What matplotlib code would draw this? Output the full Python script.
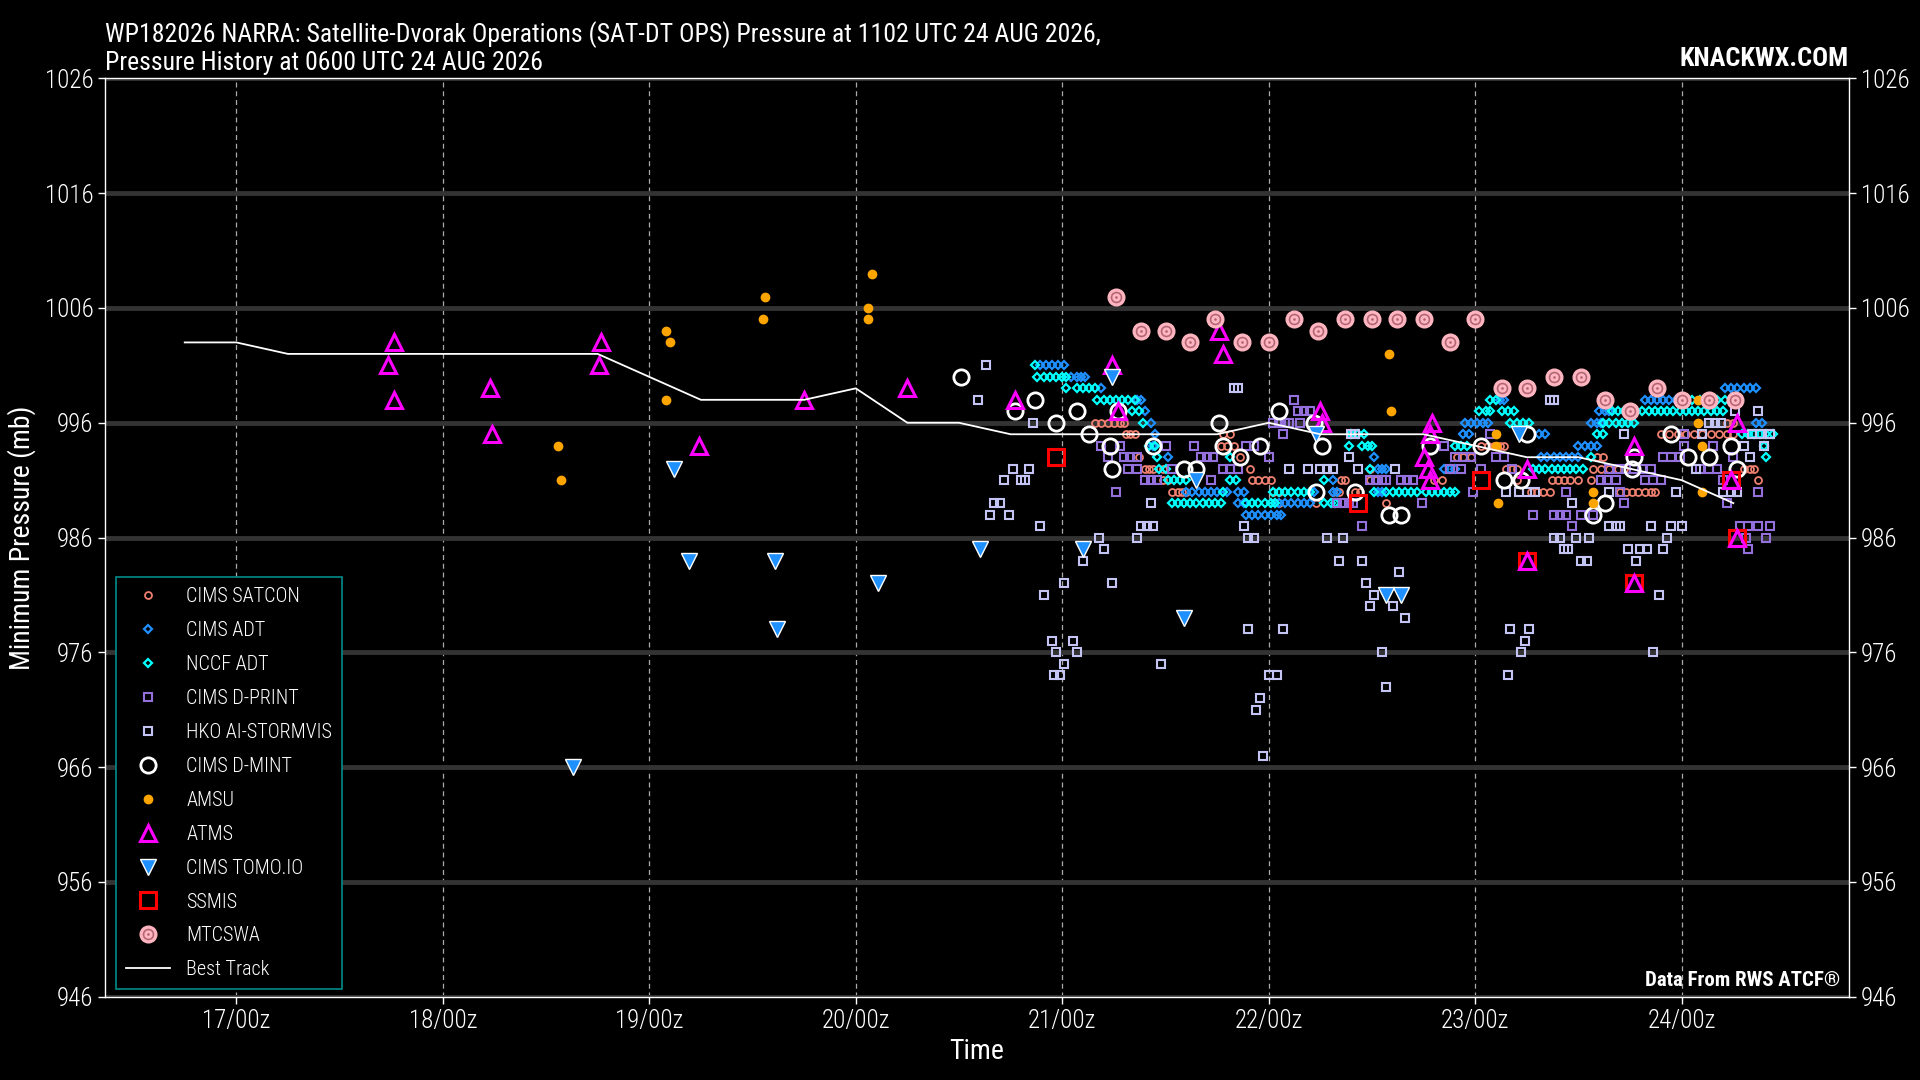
import matplotlib
matplotlib.use("Agg")
import matplotlib.pyplot as plt
from matplotlib import font_manager
from matplotlib.legend_handler import HandlerTuple

# pick a narrow font if one is there
names = {f.name for f in font_manager.fontManager.ttflist}
FONT = "DejaVu Sans"
for cand in ["Liberation Sans Narrow", "Roboto Condensed", "Open Sans Condensed", "DejaVu Sans"]:
    if cand in names:
        FONT = cand
        break
plt.rcParams["font.family"] = [FONT, "DejaVu Sans"]
plt.rcParams["font.weight"] = "light"

# times are day of August 2026 (UTC, fractional), pressures in mb
best_t = [16.75, 17.0, 17.25, 17.5, 17.75, 18.0, 18.25, 18.5, 18.75, 19.0, 19.25, 19.5,
          19.75, 20.0, 20.25, 20.5, 20.75, 21.0, 21.25, 21.5, 21.75, 22.0, 22.25, 22.5,
          22.75, 23.0, 23.25, 23.5, 23.75, 24.0, 24.25]
best_p = [1003, 1003, 1002, 1002, 1002, 1002, 1002, 1002, 1002, 1000, 998, 998,
          998, 999, 996, 996, 995, 995, 995, 995, 995, 996, 995, 995,
          995, 994, 993, 993, 992, 991, 989]

SATCON = [(21.16, 996), (21.19, 996), (21.22, 996), (21.25, 996), (21.28, 996), (21.30, 996),
          (21.31, 995), (21.33, 995), (21.35, 995), (21.37, 993), (21.40, 992), (21.42, 992),
          (21.44, 992), (21.49, 992), (21.49, 991), (21.51, 991), (21.53, 990), (21.56, 990),
          (21.58, 990), (21.60, 990), (21.77, 994), (21.80, 994), (21.83, 994), (21.78, 995),
          (21.81, 995), (21.86, 993), (21.91, 992), (21.92, 991), (21.95, 991), (21.98, 991),
          (22.01, 991), (22.02, 990), (22.05, 990), (22.05, 989), (22.23, 989), (22.31, 990),
          (22.34, 990), (22.35, 991), (22.37, 991), (22.42, 990), (22.44, 990), (22.49, 992),
          (22.49, 991), (22.52, 991), (22.57, 989), (22.80, 991), (22.84, 991),
          (22.91, 993), (22.94, 993), (22.98, 993), (23.03, 994), (23.06, 994), (23.09, 994),
          (23.12, 994), (23.14, 994), (23.15, 992), (23.18, 992), (23.20, 992), (23.20, 991),
          (23.37, 991), (23.40, 991), (23.43, 991), (23.46, 991), (23.50, 991), (23.56, 991),
          (23.27, 990), (23.30, 990), (23.33, 990), (23.36, 990), (23.59, 993), (23.62, 993),
          (23.57, 992), (23.61, 992), (23.65, 992), (23.69, 992), (23.72, 992), (23.70, 990),
          (23.73, 990), (23.76, 990), (23.79, 990), (23.82, 990), (23.85, 990), (23.87, 990),
          (23.90, 995), (23.94, 995), (23.98, 995), (24.02, 995), (24.06, 995), (24.10, 995),
          (24.14, 995), (24.18, 995), (24.22, 995), (24.25, 995), (24.22, 996), (24.25, 996),
          (24.30, 992), (24.33, 992), (24.35, 992), (24.37, 991)]

CIMS_ADT = [(20.89, 1001), (20.92, 1001), (20.95, 1001), (20.98, 1001), (21.01, 1001),
            (21.04, 1000), (21.07, 1000), (21.09, 1000), (21.11, 1000), (21.19, 999),
            (21.36, 998), (21.38, 998), (21.40, 997), (21.43, 996), (21.45, 995), (21.44, 994),
            (21.51, 993), (21.60, 990), (21.63, 990), (21.66, 990), (21.69, 990), (21.72, 990),
            (21.75, 990), (21.80, 990), (21.85, 990), (21.88, 990), (21.85, 989), (21.88, 989),
            (21.89, 988), (21.92, 988), (21.95, 988), (21.98, 988), (22.01, 988), (22.04, 988),
            (22.06, 988), (22.05, 989), (22.08, 989), (22.11, 989), (22.14, 989), (22.17, 989),
            (22.20, 989), (22.22, 990), (22.31, 990), (22.33, 990), (22.31, 991), (22.53, 990),
            (22.55, 990), (22.53, 992), (22.55, 992), (22.57, 992), (22.51, 993), (22.85, 992),
            (22.88, 992), (22.90, 992), (22.95, 996), (22.98, 996), (23.01, 996), (23.04, 996),
            (23.06, 996), (22.94, 995), (22.97, 995), (23.12, 998), (23.14, 998), (23.31, 995),
            (23.34, 995), (23.50, 994), (23.53, 994), (23.56, 994), (23.59, 994), (23.32, 993),
            (23.35, 993), (23.38, 993), (23.41, 993), (23.44, 993), (23.47, 993), (23.50, 993),
            (23.56, 996), (23.59, 996), (23.61, 996), (23.60, 997), (23.63, 997), (23.65, 997),
            (23.82, 998), (23.85, 998), (23.88, 998), (23.91, 998), (23.94, 998), (23.97, 998),
            (24.00, 998), (24.21, 999), (24.24, 999), (24.27, 999), (24.30, 999), (24.33, 999),
            (24.36, 999), (24.36, 996), (24.39, 996)]

NCCF_ADT = [(20.87, 1001), (20.88, 1000), (20.91, 1000), (20.94, 1000), (20.97, 1000),
            (21.00, 1000), (21.02, 1000), (21.02, 999), (21.07, 999), (21.10, 999), (21.13, 999),
            (21.16, 999), (21.17, 998), (21.20, 998), (21.23, 998), (21.26, 998), (21.29, 998),
            (21.32, 998), (21.35, 998), (21.34, 997), (21.37, 997), (21.39, 996), (21.42, 994),
            (21.45, 994), (21.46, 993), (21.47, 992), (21.50, 992), (21.51, 991), (21.54, 991),
            (21.57, 991), (21.60, 991), (21.53, 989), (21.56, 989), (21.59, 989), (21.62, 989),
            (21.65, 989), (21.68, 989), (21.71, 989), (21.74, 989), (21.77, 989), (21.78, 990),
            (21.81, 991), (21.84, 991), (21.81, 993), (21.89, 989), (21.92, 989), (21.95, 989),
            (21.98, 989), (22.01, 989), (22.03, 989), (22.02, 990), (22.05, 990), (22.08, 990),
            (22.11, 990), (22.14, 990), (22.17, 990), (22.20, 990), (22.27, 989), (22.30, 989),
            (22.32, 989), (22.27, 991), (22.39, 994), (22.45, 994), (22.48, 994), (22.50, 994),
            (22.40, 995), (22.43, 995), (22.46, 995), (22.49, 992), (22.51, 990), (22.57, 990),
            (22.60, 990), (22.63, 990), (22.66, 990), (22.69, 990), (22.72, 990), (22.76, 990),
            (22.79, 990), (22.82, 990), (22.85, 990), (22.88, 990), (22.90, 990), (22.90, 994),
            (22.93, 994), (22.96, 994), (23.02, 997), (23.05, 997), (23.07, 997), (23.07, 998),
            (23.10, 998), (23.13, 997), (23.16, 997), (23.19, 997), (23.17, 996), (23.20, 996),
            (23.23, 996), (23.26, 996), (23.28, 992), (23.31, 992), (23.34, 992), (23.37, 992),
            (23.40, 992), (23.43, 992), (23.46, 992), (23.49, 992), (23.52, 992), (23.56, 993),
            (23.59, 995), (23.62, 995), (23.62, 996), (23.65, 996), (23.68, 996), (23.71, 996),
            (23.74, 996), (23.77, 996), (23.66, 997), (23.69, 997), (23.72, 997), (23.75, 997),
            (23.78, 997), (23.81, 997), (23.84, 997), (23.87, 997), (23.90, 997), (23.93, 997),
            (23.96, 997), (23.99, 997), (24.02, 997), (24.05, 997), (24.08, 997), (24.11, 997),
            (24.14, 997), (24.17, 997), (24.20, 997), (24.01, 998), (24.05, 998), (24.09, 998),
            (24.13, 998), (24.17, 998), (24.21, 998), (24.29, 995), (24.32, 995), (24.35, 995),
            (24.38, 995), (24.41, 995), (24.44, 995), (24.40, 994), (24.41, 993)]

D_PRINT = [(21.19, 994), (21.28, 994), (21.22, 993), (21.30, 993), (21.33, 993), (21.36, 993),
           (21.32, 992), (21.36, 992), (21.40, 991), (21.43, 991), (21.46, 991), (21.26, 990),
           (21.50, 994), (21.53, 992), (21.64, 994), (21.67, 993), (21.70, 993), (21.73, 993),
           (21.72, 991), (21.78, 992), (21.81, 992), (21.85, 992), (21.89, 994), (21.93, 994),
           (22.00, 993), (22.07, 995), (22.02, 996), (22.05, 996), (22.08, 996), (22.10, 996),
           (22.15, 996), (22.12, 998), (22.14, 997), (22.17, 997), (22.20, 997), (22.33, 989),
           (22.36, 989), (22.39, 989), (22.41, 989), (22.45, 987), (22.49, 991), (22.52, 991),
           (22.55, 991), (22.57, 991), (22.64, 991), (22.67, 991), (22.70, 991), (22.74, 989),
           (22.85, 994), (22.88, 992), (22.93, 992), (22.90, 993), (22.94, 993), (22.98, 993),
           (23.03, 992), (23.07, 995), (23.10, 993), (23.14, 993), (23.18, 992), (22.99, 990),
           (23.28, 988), (23.38, 988), (23.41, 988), (23.44, 988), (23.51, 988), (23.57, 988),
           (23.47, 987), (23.44, 990), (23.61, 991), (23.64, 991), (23.68, 991), (23.65, 992),
           (23.69, 992), (23.73, 992), (23.77, 992), (23.81, 992), (23.85, 992), (23.70, 990),
           (23.72, 989), (23.82, 991), (23.86, 991), (23.90, 991), (23.91, 993), (23.95, 993),
           (23.99, 993), (24.01, 995), (24.01, 994), (24.15, 994), (24.09, 992), (24.13, 992),
           (24.17, 992), (24.20, 991), (24.25, 993), (24.22, 989), (24.37, 990), (24.28, 987),
           (24.32, 987), (24.37, 987), (24.43, 987), (24.31, 986), (24.41, 986), (24.32, 985)]

HKO = [(20.59, 998), (20.63, 1001), (20.86, 996), (20.76, 992), (20.84, 992), (20.72, 991),
       (20.80, 991), (20.82, 991), (20.67, 989), (20.70, 989), (20.65, 988), (20.74, 988),
       (20.89, 987), (21.18, 986), (21.36, 986), (21.20, 985), (21.10, 984), (21.01, 982),
       (21.24, 982), (20.91, 981), (20.95, 977), (21.05, 977), (20.97, 976), (21.07, 976),
       (21.01, 975), (20.96, 974), (20.99, 974), (21.43, 989), (21.38, 987), (21.41, 987),
       (21.44, 987), (21.48, 975), (21.83, 999), (21.85, 999), (21.88, 987), (21.90, 986),
       (21.93, 986), (21.90, 978), (21.94, 971), (21.96, 972), (22.00, 974), (22.04, 974),
       (21.97, 967), (22.07, 978), (22.10, 992), (22.19, 992), (22.25, 992), (22.28, 992),
       (22.31, 992), (22.43, 992), (22.61, 992), (22.39, 993), (22.40, 995), (22.42, 995),
       (22.28, 986), (22.36, 986), (22.34, 984), (22.45, 984), (22.63, 983), (22.47, 982),
       (22.51, 981), (22.49, 980), (22.60, 980), (22.66, 979), (22.55, 976), (22.57, 973),
       (23.36, 998), (23.38, 998), (23.15, 990), (23.21, 990), (23.25, 990), (23.29, 990),
       (23.65, 990), (23.97, 990), (24.20, 990), (24.24, 990), (24.27, 990), (23.47, 989),
       (23.65, 987), (23.68, 987), (23.70, 987), (23.85, 987), (23.95, 987), (24.00, 987),
       (23.38, 986), (23.41, 986), (23.49, 986), (23.55, 986), (23.93, 986), (23.43, 985),
       (23.45, 985), (23.74, 985), (23.80, 985), (23.83, 985), (23.91, 985), (23.51, 984),
       (23.54, 984), (23.78, 984), (23.89, 981), (23.17, 978), (23.26, 978), (23.24, 977),
       (23.22, 976), (23.86, 976), (23.16, 974), (24.13, 996), (24.16, 996), (24.19, 996),
       (24.26, 997), (24.37, 997), (23.72, 995), (24.10, 995), (24.34, 995), (24.38, 995),
       (24.43, 995), (24.30, 994), (24.40, 994), (24.33, 993), (24.07, 992)]

D_MINT = [(20.51, 1000), (20.77, 997), (20.87, 998), (20.97, 996), (21.07, 997), (21.13, 995),
          (21.23, 994), (21.24, 992), (21.27, 997), (21.44, 994), (21.59, 992), (21.65, 992),
          (21.76, 996), (21.78, 994), (21.86, 993), (21.96, 994), (22.05, 997), (22.22, 996),
          (22.26, 994), (22.23, 990), (22.42, 990), (22.58, 988), (22.64, 988), (22.78, 994),
          (23.03, 994), (23.14, 991), (23.22, 991), (23.25, 995), (23.57, 988), (23.63, 989),
          (23.76, 992), (23.77, 993), (23.95, 995), (24.03, 993), (24.13, 993), (24.24, 994),
          (24.27, 992)]

AMSU = [(20.08, 1009), (19.56, 1007), (20.06, 1006), (20.06, 1005), (19.55, 1005),
        (19.08, 1004), (19.10, 1003), (19.08, 998), (18.56, 994), (18.57, 991),
        (22.58, 1002), (22.59, 997), (23.10, 995), (23.10, 994), (23.11, 989),
        (24.08, 998), (24.08, 996), (24.10, 994), (24.10, 990), (23.57, 990), (23.57, 989)]

ATMS = [(17.735, 1001), (17.765, 1003), (17.765, 998), (18.23, 999), (18.24, 995),
        (18.755, 1001), (18.765, 1003), (19.24, 994), (19.75, 998), (20.25, 999),
        (20.77, 998), (21.24, 1001), (21.27, 997), (21.76, 1004), (21.78, 1002),
        (22.25, 997), (22.26, 996), (22.75, 993), (22.77, 992), (22.78, 991),
        (22.79, 996), (22.78, 995), (23.25, 992), (23.77, 994), (24.27, 996),
        (23.25, 984), (23.77, 982), (24.27, 986), (24.24, 991)]

TOMO = [(19.12, 992), (19.19, 984), (18.63, 966), (19.61, 984), (19.62, 978), (20.11, 982),
        (20.60, 985), (21.10, 985), (21.24, 1000), (21.59, 979), (21.65, 991), (22.23, 995),
        (22.57, 981), (22.64, 981), (23.21, 995)]

SSMIS = [(20.97, 993), (22.43, 989), (23.03, 991), (23.25, 984), (23.77, 982),
         (24.27, 986), (24.24, 991)]

MTCSWA = [(21.26, 1007), (21.38, 1004), (21.50, 1004), (21.62, 1003), (21.74, 1005),
          (21.87, 1003), (22.00, 1003), (22.12, 1005), (22.24, 1004), (22.37, 1005),
          (22.50, 1005), (22.62, 1005), (22.75, 1005), (22.88, 1003), (23.00, 1005),
          (23.13, 999), (23.25, 999), (23.38, 1000), (23.51, 1000), (23.63, 998),
          (23.75, 997), (23.88, 999), (24.00, 998), (24.13, 998), (24.26, 998)]

day_ticks = [17, 18, 19, 20, 21, 22, 23, 24]
day_labels = ["17/00z", "18/00z", "19/00z", "20/00z", "21/00z", "22/00z", "23/00z", "24/00z"]
p_ticks = [946, 956, 966, 976, 986, 996, 1006, 1016, 1026]


def xy(pts):
    return [a for a, b in pts], [b for a, b in pts]


fig = plt.figure(figsize=(19.2, 10.8), dpi=100, facecolor="black")
ax = fig.add_axes([0.0548, 0.0771, 0.9082, 0.8503], facecolor="black")

handles = []
h = ax.plot(*xy(SATCON), ls="none", marker="o", ms=5, mfc="none", mec="#f08070", mew=1.3,
            label="CIMS SATCON")[0]
handles.append(h)
h = ax.plot(*xy(CIMS_ADT), ls="none", marker="D", ms=4, mfc="none", mec="#1e90ff", mew=1.6,
            label="CIMS ADT")[0]
handles.append(h)
h = ax.plot(*xy(NCCF_ADT), ls="none", marker="D", ms=4, mfc="none", mec="#00ffff", mew=1.6,
            label="NCCF ADT")[0]
handles.append(h)
h = ax.plot(*xy(D_PRINT), ls="none", marker="s", ms=5.5, mfc="none", mec="#9370db", mew=1.5,
            label="CIMS D-PRINT")[0]
handles.append(h)
h = ax.plot(*xy(HKO), ls="none", marker="s", ms=5.5, mfc="none", mec="#c4c4f4", mew=1.5,
            label="HKO AI-STORMVIS")[0]
handles.append(h)
h = ax.plot(*xy(D_MINT), ls="none", marker="o", ms=11, mfc="none", mec="white", mew=2,
            label="CIMS D-MINT")[0]
handles.append(h)
h = ax.plot(*xy(AMSU), ls="none", marker="o", ms=6, mfc="#ffa500", mec="#ffa500",
            label="AMSU")[0]
handles.append(h)
h_ssmis = ax.plot(*xy(SSMIS), ls="none", marker="s", ms=11, mfc="none", mec="red", mew=2.2,
                  label="SSMIS")[0]
h = ax.plot(*xy(ATMS), ls="none", marker="^", ms=11, mfc="none", mec="magenta", mew=2.2,
            label="ATMS")[0]
handles.append(h)
h = ax.plot(*xy(TOMO), ls="none", marker="v", ms=11, mfc="#1e90ff", mec="white", mew=1,
            label="CIMS TOMO.IO")[0]
handles.append(h)
handles.append(h_ssmis)
h1 = ax.plot(*xy(MTCSWA), ls="none", marker="o", ms=12, mfc="#ffb6c1", mec="#ffb6c1")[0]
h2 = ax.plot(*xy(MTCSWA), ls="none", marker=r"$\odot$", ms=8, color="#b06070", mew=0.3)[0]
handles.append((h1, h2))
h = ax.plot(best_t, best_p, color="white", lw=1.3, label="Best Track")[0]
handles.append(h)

labels = ["CIMS SATCON", "CIMS ADT", "NCCF ADT", "CIMS D-PRINT", "HKO AI-STORMVIS",
          "CIMS D-MINT", "AMSU", "ATMS", "CIMS TOMO.IO", "SSMIS", "MTCSWA", "Best Track"]
leg = ax.legend(handles, labels, loc="lower left", bbox_to_anchor=(0.006, 0.008),
                borderaxespad=0, fontsize=14.5, labelcolor="white", facecolor="black",
                edgecolor="#008b8b", framealpha=1, fancybox=False, labelspacing=0.74,
                handlelength=2.2, handletextpad=0.8, borderpad=0.5,
                handler_map={tuple: HandlerTuple(ndivide=1)})
leg.get_frame().set_linewidth(1.2)

ax.set_xlim(16.365, 24.81)
ax.set_ylim(946, 1026)
ax.set_xticks(day_ticks)
ax.set_xticklabels(day_labels)
ax.set_yticks(p_ticks)
ax.grid(axis="y", color="#333333", lw=3.5, zorder=0)
ax.grid(axis="x", color="#aaaaaa", lw=0.9, ls=(0, (4, 3)), zorder=0)
ax.set_axisbelow(True)
ax.tick_params(axis="both", colors="white", labelsize=18, length=5, width=1)
ax.tick_params(axis="y", right=True, labelright=True)
for s in ax.spines.values():
    s.set_color("white")
    s.set_linewidth(1)

ax.set_xlabel("Time", color="white", fontsize=20, labelpad=4)
ax.set_ylabel("Minimum Pressure (mb)", color="white", fontsize=20, labelpad=6)
ax.set_title("WP182026 NARRA: Satellite-Dvorak Operations (SAT-DT OPS) Pressure at 1102 UTC 24 AUG 2026,\n"
             "Pressure History at 0600 UTC 24 AUG 2026",
             loc="left", color="white", fontsize=18.5, pad=6, linespacing=1.15)
ax.text(1.0, 1.008, "KNACKWX.COM", transform=ax.transAxes, ha="right", va="bottom",
        color="white", fontsize=19, fontweight="bold")
ax.text(0.995, 0.008, "Data From RWS ATCF\u00ae", transform=ax.transAxes, ha="right",
        va="bottom", color="white", fontsize=15, fontweight="bold")

fig.savefig("out.png", dpi=100, facecolor="black")
